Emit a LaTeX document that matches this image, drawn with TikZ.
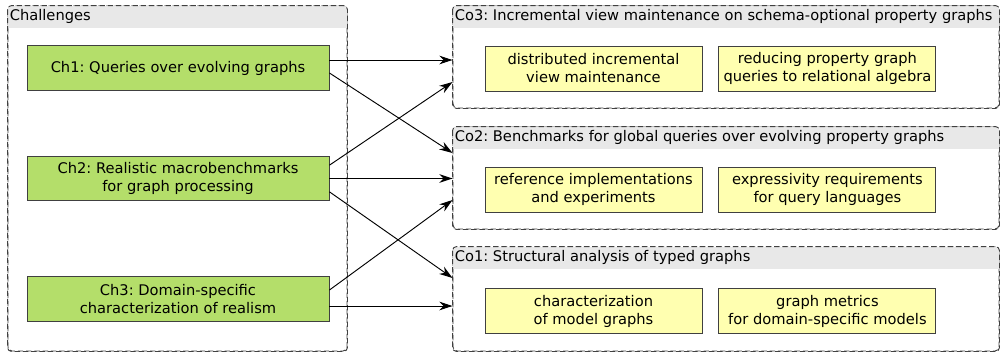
\documentclass[tikz,border=0pt]{standalone}
\usepackage{fontspec}
\setmainfont{DejaVu Sans}
\usepackage{xcolor}
\usetikzlibrary{positioning,arrows.meta,fit}
\frenchspacing

\definecolor{chgreen}{RGB}{180,222,106}
\definecolor{coyellow}{RGB}{255,255,176}
\definecolor{headgray}{RGB}{232,232,232}

\begin{document}
\begin{tikzpicture}[x=0.75pt, y=-0.75pt, >={Stealth[length=10pt, width=6.5pt]},
    font=\fontsize{11}{13.5}\selectfont]
    % Define styles
    \tikzstyle{group} = [draw=black!75, dash pattern=on 4pt off 2.2pt, rounded corners=3pt, inner sep=0pt, line width=0.7pt]
    \tikzstyle{challenge} = [rectangle, draw=black!75, line width=0.7pt, fill=chgreen, align=center, minimum width=226.5pt, minimum height=33.5pt, inner sep=1pt]
    \tikzstyle{result} = [rectangle, draw=black!75, line width=0.7pt, fill=coyellow, align=center, minimum width=162.75pt, minimum height=33.75pt, inner sep=1pt]
    \tikzstyle{title} = [anchor=west, inner xsep=1.5pt, inner ysep=0pt]
    \tikzstyle{line} = [draw, ->, line width=0.7pt]

    \useasboundingbox (0,0) rectangle (1000,354);

    % Groups
    \node [group, fit={(8,6) (347,351)}] (chall) {};
    \node [group, fit={(453,6) (999,108)}] (co3) {};
    \node [group, fit={(453,127) (999,229)}] (co2) {};
    \node [group, fit={(453,247) (999,351)}] (co1) {};

    % Headers
    \foreach \g in {chall, co3, co2, co1} {
        \begin{scope}
            \clip [rounded corners=3pt] (\g.north west) rectangle (\g.south east);
            \fill [headgray] (\g.north west) rectangle ([yshift=-16.5pt]\g.north east);
        \end{scope}
        \draw [group] (\g.north west) rectangle (\g.south east);
    }
    \node [title] (challt) at ([yshift=-8.25pt]chall.north west) {Challenges};
    \node [title] (co3t) at ([yshift=-8.25pt]co3.north west) {Co3: Incremental view maintenance on schema-optional property graphs};
    \node [title] (co2t) at ([yshift=-8.25pt]co2.north west) {Co2: Benchmarks for global queries over evolving property graphs};
    \node [title] (co1t) at ([yshift=-8.25pt]co1.north west) {Co1: Structural analysis of typed graphs};

    % Challenges
    \node [challenge] (ch1) at (178,68) {Ch1: Queries over evolving graphs};
    \node [challenge] (ch2) at (178,178.5) {Ch2: Realistic macrobenchmarks\\for graph processing};
    \node [challenge] (ch3) at (178,299) {Ch3: Domain-specific\\characterization of realism};

    % Contributions
    \node [result] (divm) at (593.5,68.5) {distributed incremental\\view maintenance};
    \node [result, right=12pt of divm] (relalg) {reducing property graph\\queries to relational algebra};
    \node [result] (refimpl) at (593.5,189.5) {reference implementations\\and experiments};
    \node [result, right=12pt of refimpl] (expr) {expressivity requirements\\for query languages};
    \node [result] (charmg) at (593.5,311) {characterization\\of model graphs};
    \node [result, right=12pt of charmg] (metrics) {graph metrics\\for domain-specific models};

    % Arrows
    \draw [line] ([yshift=6pt]ch1.east) -- ([yshift=6pt]ch1.east -| co3.west);
    \draw [line] ([yshift=-3.75pt]ch1.east) -- ([yshift=18.75pt]co2.west);
    \draw [line] ([yshift=10pt]ch2.east) -- ([yshift=-18.75pt]co3.west);
    \draw [line] (ch2.east) -- (ch2.east -| co2.west);
    \draw [line] ([yshift=-10pt]ch2.east) -- ([yshift=15.75pt]co1.west);
    \draw [line] ([yshift=6.75pt]ch3.east) -- ([yshift=-16.5pt]co2.west);
    \draw [line] ([yshift=-5.25pt]ch3.east) -- ([yshift=-5.25pt]ch3.east -| co1.west);
\end{tikzpicture}
\end{document}
